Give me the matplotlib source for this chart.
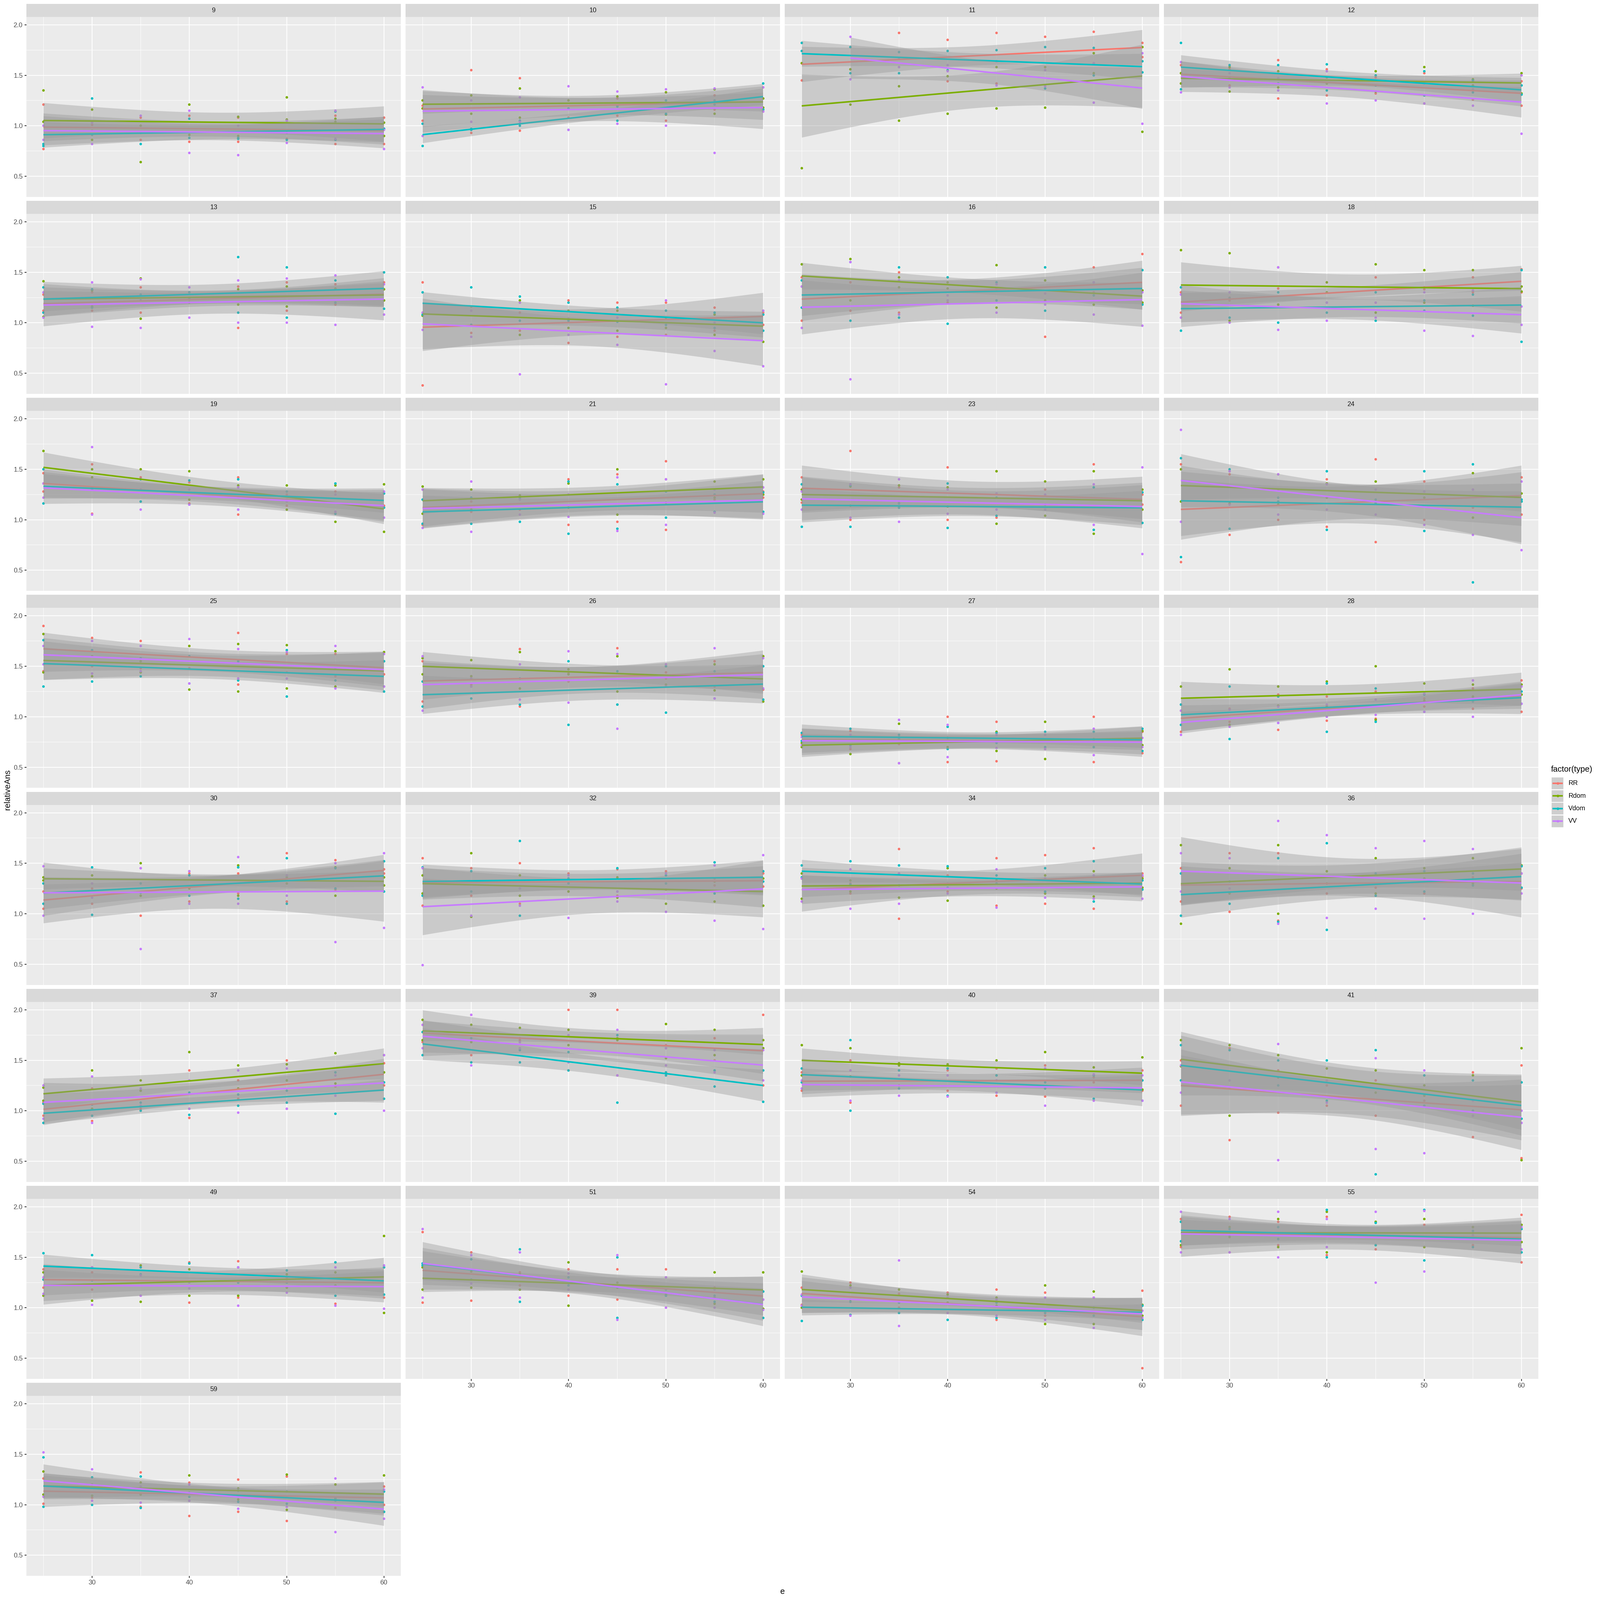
import numpy as np
import matplotlib
matplotlib.use("Agg")
import matplotlib.pyplot as plt
from matplotlib.patches import Rectangle

plt.rcParams["font.family"] = ["Liberation Sans", "DejaVu Sans"]

nan = float("nan")

PANELS = ["9", "10", "11", "12", "13", "15", "16", "18", "19", "21", "23", "24",
          "25", "26", "27", "28", "30", "32", "34", "36", "37", "39", "40", "41",
          "49", "51", "54", "55", "59"]
E_LEVELS = [25, 30, 35, 40, 45, 50, 55, 60]   # two observations per level and type
TYPES = ["RR", "Rdom", "Vdom", "VV"]
COLORS = ["#F8766D", "#7CAE00", "#00BFC4", "#C77CFF"]

# relativeAns, one row per panel, pairs for e = 25, 30, ..., 60
RR = [
    [1.21, 0.77, 1.01, 0.95, 1.08, 0.86, 0.84, 1.10, 1.08, 0.84, 0.87, 1.05, 1.10, 0.82, 1.08, 0.82],
    [1.20, 1.05, 1.55, 0.93, 1.47, 0.95, 1.08, 1.25, 1.27, 1.10, 1.33, 1.05, 1.30, 1.16, 1.38, 1.14],
    [1.62, 1.45, 1.78, 1.56, 1.92, 1.58, 1.85, 1.44, 1.92, 1.42, 1.88, 1.58, 1.93, 1.62, 1.82, 1.68],
    [1.60, 1.42, 1.40, 1.56, 1.65, 1.27, 1.30, 1.56, 1.48, 1.32, 1.22, 1.52, 1.26, 1.44, 1.20, 1.44],
    [1.28, 1.12, 1.30, 1.12, 1.35, 1.10, 1.25, 1.23, 1.36, 0.95, 1.40, 1.12, 1.38, 1.18, 1.40, 1.22],
    [0.38, 1.40, 1.12, 0.90, 1.10, 0.92, 0.80, 1.22, 1.20, 0.86, 1.20, 0.88, 1.15, 0.92, 1.10, 0.98],
    [1.02, 1.45, 1.40, 1.12, 1.10, 1.50, 1.45, 1.20, 1.33, 1.34, 0.86, 1.55, 1.55, 1.30, 1.68, 1.20],
    [1.30, 1.10, 1.25, 1.22, 1.18, 1.34, 1.40, 1.20, 1.45, 1.20, 1.35, 1.33, 1.45, 1.30, 1.53, 1.30],
    [1.46, 1.28, 1.06, 1.55, 1.42, 1.18, 1.16, 1.37, 1.42, 1.05, 1.25, 1.14, 1.28, 1.06, 1.12, 1.14],
    [0.95, 1.30, 1.18, 1.08, 1.20, 1.10, 0.95, 1.40, 1.45, 0.98, 1.58, 0.90, 1.25, 1.20, 1.28, 1.22],
    [1.42, 1.17, 1.68, 1.00, 1.18, 1.32, 1.52, 1.00, 1.48, 1.02, 1.15, 1.30, 1.55, 0.90, 1.25, 1.15],
    [0.58, 1.55, 1.45, 0.85, 1.00, 1.30, 0.93, 1.40, 0.78, 1.60, 1.38, 1.00, 1.30, 1.12, 1.42, 1.05],
    [1.90, 1.45, 1.78, 1.50, 1.75, 1.48, 1.70, 1.48, 1.83, 1.32, 1.62, 1.44, 1.62, 1.40, 1.55, 1.42],
    [1.55, 1.15, 1.40, 1.32, 1.67, 1.10, 1.35, 1.43, 1.68, 1.12, 1.38, 1.44, 1.55, 1.30, 1.60, 1.27],
    [0.82, 0.72, 0.68, 0.86, 0.80, 0.73, 1.00, 0.55, 0.56, 0.95, 0.68, 0.82, 1.00, 0.55, 0.64, 0.85],
    [1.12, 0.85, 0.95, 1.08, 0.87, 1.22, 0.96, 1.20, 1.25, 0.98, 1.18, 1.10, 1.08, 1.28, 1.36, 1.05],
    [1.05, 1.22, 1.10, 1.25, 0.98, 1.45, 1.40, 1.12, 1.40, 1.20, 1.60, 1.12, 1.53, 1.24, 1.40, 1.44],
    [1.55, 1.08, 1.45, 1.18, 1.50, 1.10, 1.22, 1.40, 1.44, 1.18, 1.42, 1.24, 1.35, 1.28, 1.40, 1.27],
    [1.35, 1.12, 1.30, 1.20, 1.64, 0.95, 1.22, 1.38, 1.08, 1.55, 1.58, 1.10, 1.65, 1.05, 1.40, 1.37],
    [1.45, 1.12, 1.60, 1.02, 0.93, 1.60, 1.42, 1.20, 1.30, 1.26, 1.42, 1.20, 1.28, 1.36, 1.25, 1.40],
    [0.95, 1.08, 0.90, 1.22, 1.02, 1.20, 0.93, 1.40, 1.30, 1.12, 1.50, 1.02, 1.38, 1.24, 1.25, 1.47],
    [1.85, 1.68, 1.95, 1.55, 1.70, 1.72, 2.00, 1.40, 2.00, 1.35, 1.62, 1.65, 1.72, 1.50, 1.95, 1.25],
    [1.20, 1.38, 1.08, 1.50, 1.25, 1.35, 1.40, 1.20, 1.15, 1.42, 1.45, 1.14, 1.28, 1.33, 1.20, 1.40],
    [1.50, 1.05, 0.71, 1.62, 1.40, 0.98, 1.25, 1.05, 1.30, 0.95, 1.10, 1.05, 0.74, 1.38, 0.53, 1.45],
    [1.20, 1.38, 1.35, 1.18, 1.40, 1.12, 1.05, 1.45, 1.46, 1.10, 1.20, 1.30, 1.04, 1.45, 1.10, 1.40],
    [1.75, 1.05, 1.07, 1.55, 1.22, 1.35, 1.12, 1.38, 1.08, 1.38, 1.38, 1.00, 1.10, 1.20, 1.08, 1.16],
    [1.20, 1.03, 1.25, 0.93, 1.00, 1.14, 0.95, 1.15, 0.88, 1.18, 1.15, 0.92, 1.10, 0.95, 0.40, 1.17],
    [1.88, 1.60, 1.90, 1.55, 1.85, 1.62, 1.52, 1.90, 1.85, 1.58, 1.60, 1.82, 1.80, 1.62, 1.45, 1.92],
    [1.26, 1.01, 1.07, 1.20, 1.32, 0.98, 0.89, 1.22, 0.93, 1.25, 0.84, 1.28, 1.20, 0.97, 1.18, 1.00],
]

RDOM = [
    [1.35, 1.04, 1.16, 0.86, 1.00, 0.64, 1.21, 0.91, 1.09, 0.90, 1.28, 1.06, 1.07, 1.04, 1.03, 0.90],
    [1.17, 1.25, 1.30, 1.12, 1.37, 1.08, 1.25, 1.17, 1.20, 1.29, 1.11, 1.33, 1.36, 1.12, 1.27, 1.18],
    [0.58, 1.62, 1.21, 1.56, 1.05, 1.39, 1.12, 1.49, 1.17, 1.58, 1.58, 1.18, 1.52, 1.72, 0.94, 1.78],
    [1.52, 1.42, 1.58, 1.34, 1.38, 1.54, 1.42, 1.48, 1.34, 1.54, 1.58, 1.30, 1.40, 1.46, 1.32, 1.52],
    [1.41, 1.06, 1.16, 1.32, 1.04, 1.44, 1.30, 1.20, 1.18, 1.33, 1.36, 1.16, 1.34, 1.20, 1.22, 1.33],
    [1.10, 1.07, 1.16, 0.98, 1.22, 0.88, 0.95, 1.12, 1.12, 0.92, 1.05, 0.95, 1.08, 0.88, 1.12, 0.81],
    [1.58, 1.36, 1.63, 1.22, 1.35, 1.45, 1.40, 1.34, 1.57, 1.15, 1.22, 1.42, 1.40, 1.18, 1.32, 1.20],
    [1.72, 1.05, 1.69, 1.02, 1.55, 1.18, 1.40, 1.30, 1.10, 1.58, 1.52, 1.20, 1.52, 1.17, 1.36, 1.31],
    [1.68, 1.36, 1.42, 1.50, 1.50, 1.30, 1.20, 1.48, 1.34, 1.22, 1.10, 1.34, 0.98, 1.34, 1.35, 0.88],
    [1.33, 1.06, 1.10, 1.30, 1.24, 1.20, 1.12, 1.36, 1.50, 1.05, 1.40, 1.17, 1.38, 1.22, 1.40, 1.25],
    [1.30, 1.20, 1.14, 1.33, 1.12, 1.34, 1.32, 1.13, 0.96, 1.48, 1.38, 1.04, 1.48, 0.86, 1.30, 1.10],
    [1.50, 1.18, 1.48, 1.16, 1.45, 1.15, 1.22, 1.36, 1.38, 1.16, 1.28, 1.22, 1.46, 1.02, 1.18, 1.26],
    [1.82, 1.44, 1.60, 1.40, 1.55, 1.44, 1.27, 1.70, 1.25, 1.72, 1.71, 1.28, 1.65, 1.30, 1.64, 1.30],
    [1.58, 1.42, 1.56, 1.40, 1.64, 1.28, 1.47, 1.42, 1.25, 1.60, 1.50, 1.32, 1.52, 1.26, 1.60, 1.15],
    [0.70, 0.74, 0.82, 0.63, 0.54, 0.93, 0.70, 0.79, 0.66, 0.85, 0.95, 0.58, 0.78, 0.77, 0.72, 0.86],
    [1.06, 1.30, 1.47, 0.92, 1.30, 1.11, 1.35, 1.10, 1.50, 0.97, 1.33, 1.16, 1.20, 1.32, 1.22, 1.32],
    [1.33, 1.36, 1.38, 1.30, 1.50, 1.18, 1.25, 1.42, 1.48, 1.18, 1.30, 1.36, 1.18, 1.46, 1.36, 1.28],
    [1.38, 1.20, 0.97, 1.60, 1.38, 1.18, 1.30, 1.22, 1.36, 1.16, 1.40, 1.10, 1.32, 1.12, 1.35, 1.08],
    [1.40, 1.15, 1.22, 1.33, 1.16, 1.40, 1.13, 1.45, 1.33, 1.25, 1.20, 1.38, 1.42, 1.17, 1.35, 1.26],
    [0.90, 1.68, 1.45, 1.20, 1.68, 1.00, 1.30, 1.42, 1.55, 1.20, 1.45, 1.35, 1.30, 1.55, 1.48, 1.40],
    [1.10, 1.23, 1.40, 1.02, 1.30, 1.20, 1.58, 1.02, 1.45, 1.22, 1.30, 1.46, 1.57, 1.27, 1.55, 1.38],
    [1.90, 1.70, 1.85, 1.68, 1.82, 1.68, 1.80, 1.65, 1.70, 1.72, 1.86, 1.52, 1.55, 1.80, 1.70, 1.62],
    [1.65, 1.35, 1.62, 1.34, 1.45, 1.47, 1.42, 1.46, 1.35, 1.50, 1.58, 1.24, 1.35, 1.43, 1.53, 1.21],
    [1.70, 1.44, 0.95, 1.65, 1.55, 1.33, 1.30, 1.42, 1.40, 1.18, 1.25, 1.15, 1.35, 0.95, 0.51, 1.62],
    [1.35, 1.12, 1.40, 1.07, 1.06, 1.42, 1.38, 1.12, 1.12, 1.40, 1.20, 1.33, 1.35, 1.22, 1.71, 0.95],
    [1.18, 1.40, 1.36, 1.20, 1.33, 1.18, 1.02, 1.45, 1.25, 1.20, 1.13, 1.30, 1.35, 1.04, 1.35, 0.99],
    [1.36, 1.00, 1.08, 1.22, 1.18, 1.06, 1.05, 1.13, 1.02, 1.10, 1.22, 0.84, 0.84, 1.16, 1.03, 0.92],
    [1.62, 1.85, 1.80, 1.70, 1.88, 1.60, 1.95, 1.55, 1.62, 1.85, 1.60, 1.88, 1.80, 1.68, 1.82, 1.65],
    [1.33, 1.10, 1.20, 1.09, 1.22, 1.10, 1.29, 1.04, 1.16, 1.05, 0.95, 1.30, 1.20, 1.06, 1.29, 0.93],
]

VDOM = [
    [0.80, 0.82, 1.27, 0.91, 0.82, 0.93, 1.07, 0.88, 0.88, 0.87, 0.93, 0.86, 1.14, 0.86, 0.97, 0.97],
    [0.80, 1.02, 0.97, 0.96, 1.00, 1.05, 0.96, 1.17, 1.05, 1.19, 1.12, 1.25, 1.21, 1.25, 1.42, 1.16],
    [1.82, 1.74, 1.78, 1.52, 1.73, 1.52, 1.55, 1.74, 1.75, 1.64, 1.78, 1.37, 1.77, 1.50, 1.64, 1.53],
    [1.82, 1.36, 1.60, 1.48, 1.42, 1.60, 1.61, 1.35, 1.50, 1.40, 1.30, 1.54, 1.45, 1.33, 1.40, 1.31],
    [1.10, 1.35, 1.15, 1.33, 1.22, 1.28, 1.30, 1.24, 1.65, 1.10, 1.55, 1.05, 1.42, 1.20, 1.14, 1.50],
    [1.30, 1.08, 1.35, 0.98, 1.02, 1.26, 1.20, 1.02, 1.15, 1.01, 0.98, 1.12, 1.10, 0.95, 0.92, 1.08],
    [1.15, 1.42, 1.60, 1.02, 1.55, 1.05, 1.45, 0.99, 1.40, 1.22, 1.55, 1.12, 1.27, 1.40, 1.52, 1.18],
    [0.92, 1.35, 1.05, 1.24, 1.30, 1.00, 1.10, 1.20, 1.02, 1.30, 1.12, 1.22, 1.28, 1.07, 0.81, 1.52],
    [1.16, 1.50, 1.32, 1.30, 1.40, 1.18, 1.39, 1.15, 1.10, 1.40, 1.28, 1.18, 1.06, 1.36, 1.26, 1.12],
    [1.20, 0.96, 0.96, 1.22, 1.22, 0.98, 0.86, 1.38, 1.35, 0.91, 1.02, 1.28, 1.25, 1.08, 1.08, 1.27],
    [1.35, 0.93, 0.93, 1.34, 1.12, 1.16, 0.92, 1.36, 1.04, 1.22, 1.15, 1.10, 1.32, 0.90, 0.97, 1.27],
    [1.61, 0.63, 0.91, 1.50, 1.18, 1.22, 1.48, 0.90, 1.20, 1.17, 0.89, 1.48, 0.38, 1.55, 1.20, 1.18],
    [1.76, 1.30, 1.35, 1.66, 1.40, 1.58, 1.33, 1.60, 1.55, 1.36, 1.20, 1.66, 1.48, 1.36, 1.55, 1.25],
    [1.35, 1.10, 1.18, 1.30, 1.12, 1.38, 0.92, 1.55, 1.45, 1.12, 1.04, 1.50, 1.18, 1.45, 1.50, 1.17],
    [0.76, 0.84, 0.88, 0.72, 0.82, 0.78, 0.68, 0.90, 0.74, 0.84, 0.85, 0.70, 0.70, 0.85, 0.88, 0.66],
    [0.92, 1.12, 0.78, 1.30, 1.20, 0.94, 1.33, 0.85, 0.95, 1.28, 1.05, 1.22, 1.15, 1.18, 1.25, 1.13],
    [1.30, 1.10, 0.99, 1.46, 1.30, 1.21, 1.18, 1.38, 1.15, 1.46, 1.55, 1.10, 1.45, 1.25, 1.22, 1.52],
    [1.46, 1.18, 1.22, 1.42, 1.72, 0.98, 1.35, 1.30, 1.45, 1.22, 1.38, 1.30, 1.51, 1.20, 1.42, 1.32],
    [1.48, 1.36, 1.52, 1.29, 1.28, 1.48, 1.47, 1.26, 1.30, 1.38, 1.45, 1.22, 1.52, 1.12, 1.24, 1.33],
    [0.98, 1.40, 1.32, 1.10, 0.92, 1.55, 0.84, 1.70, 1.40, 1.18, 1.22, 1.42, 1.40, 1.28, 1.47, 1.26],
    [0.88, 1.07, 0.95, 1.06, 1.00, 1.08, 0.96, 1.18, 1.05, 1.16, 1.20, 1.08, 0.97, 1.38, 1.28, 1.12],
    [1.55, 1.78, 1.72, 1.48, 1.60, 1.48, 1.58, 1.40, 1.08, 1.75, 1.38, 1.35, 1.24, 1.40, 1.09, 1.40],
    [1.28, 1.42, 1.70, 1.00, 1.40, 1.22, 1.15, 1.42, 1.35, 1.18, 1.22, 1.28, 1.12, 1.35, 1.30, 1.10],
    [1.65, 1.30, 1.60, 1.22, 1.50, 1.25, 1.50, 1.10, 0.37, 1.60, 1.35, 1.05, 1.30, 1.00, 1.28, 0.92],
    [1.54, 1.28, 1.52, 1.27, 1.40, 1.33, 1.44, 1.26, 1.40, 1.25, 1.25, 1.37, 1.45, 1.12, 1.13, 1.40],
    [1.44, 1.42, 1.48, 1.28, 1.58, 1.06, 1.22, 1.30, 0.90, 1.50, 1.18, 1.12, 1.12, 1.06, 0.90, 1.16],
    [1.12, 0.87, 0.93, 1.06, 1.05, 0.95, 0.88, 1.10, 0.90, 1.05, 0.98, 0.95, 0.92, 1.00, 0.88, 1.02],
    [1.85, 1.66, 1.72, 1.78, 1.68, 1.80, 1.97, 1.50, 1.84, 1.62, 1.97, 1.47, 1.76, 1.60, 1.55, 1.78],
    [1.47, 0.98, 1.00, 1.27, 0.97, 1.28, 1.08, 1.12, 1.03, 1.14, 1.13, 1.01, 1.07, 1.04, 1.13, 0.93],
]

VV = [
    [1.00, 0.86, 1.03, 0.82, 1.10, 0.94, 1.15, 0.73, 1.00, 0.71, 1.05, 0.83, 1.15, 0.87, 0.96, 0.77],
    [1.38, 0.90, 1.25, 1.04, 1.28, 1.04, 1.39, 0.96, 1.34, 1.02, 1.36, 1.00, 1.37, 0.73, 1.38, 1.14],
    [nan, nan, 1.88, 1.46, 1.66, 1.58, 1.54, 1.60, 1.40, 1.64, 1.55, 1.39, 1.62, 1.23, 1.72, 1.02],
    [1.33, 1.63, 1.52, 1.38, 1.35, 1.47, 1.22, 1.54, 1.25, 1.45, 1.42, 1.22, 1.36, 1.20, 0.92, 1.50],
    [1.30, 1.05, 1.40, 0.96, 0.95, 1.43, 1.05, 1.35, 1.42, 1.00, 1.44, 1.00, 0.98, 1.47, 1.38, 1.08],
    [1.10, 0.93, 1.12, 0.86, 0.49, 1.20, 1.04, 0.88, 1.05, 0.78, 0.39, 1.22, 0.72, 1.00, 0.57, 1.12],
    [1.36, 0.95, 0.44, 1.60, 1.42, 1.08, 1.27, 1.22, 1.38, 1.10, 1.29, 1.18, 1.40, 1.08, 1.30, 0.97],
    [1.05, 1.28, 1.00, 1.30, 1.55, 0.93, 1.02, 1.20, 1.05, 1.20, 0.92, 1.30, 0.87, 1.32, 0.98, 1.16],
    [1.22, 1.36, 1.72, 1.05, 1.10, 1.30, 1.15, 1.30, 1.10, 1.32, 1.18, 1.20, 1.25, 1.08, 1.28, 1.02],
    [1.30, 0.92, 1.38, 0.88, 1.20, 1.05, 1.25, 1.03, 0.89, 1.42, 1.40, 0.95, 1.07, 1.30, 1.32, 1.06],
    [1.10, 1.28, 1.02, 1.35, 1.40, 0.98, 1.30, 1.06, 1.10, 1.26, 1.25, 1.10, 1.35, 0.95, 0.66, 1.52],
    [1.89, 0.98, 1.48, 1.15, 1.45, 1.05, 1.35, 1.10, 1.05, 1.30, 1.28, 0.95, 0.85, 1.30, 1.38, 0.70],
    [1.70, 1.52, 1.75, 1.43, 1.70, 1.45, 1.77, 1.33, 1.67, 1.38, 1.64, 1.38, 1.28, 1.70, 1.30, 1.62],
    [1.60, 1.06, 1.30, 1.38, 1.52, 1.17, 1.65, 1.14, 0.88, 1.62, 1.52, 1.30, 1.68, 1.18, 1.58, 1.28],
    [0.72, 0.80, 0.70, 0.82, 0.54, 0.97, 0.92, 0.60, 0.82, 0.69, 0.68, 0.82, 0.88, 0.62, 0.70, 0.79],
    [0.82, 1.06, 0.90, 1.07, 0.94, 1.10, 1.12, 1.00, 1.02, 1.17, 1.05, 1.23, 1.36, 1.00, 1.30, 1.13],
    [1.47, 0.98, 1.30, 1.16, 0.65, 1.45, 1.42, 1.10, 1.56, 1.10, 1.38, 1.18, 0.72, 1.50, 0.86, 1.60],
    [0.49, 1.45, 1.32, 0.98, 1.25, 1.08, 1.38, 0.96, 1.22, 1.12, 1.40, 1.02, 0.93, 1.48, 0.85, 1.58],
    [1.35, 1.12, 1.05, 1.44, 1.40, 1.10, 1.30, 1.20, 1.06, 1.44, 1.35, 1.16, 1.38, 1.15, 1.15, 1.38],
    [1.60, 1.22, 1.55, 1.25, 1.92, 0.90, 1.78, 0.96, 1.05, 1.65, 0.95, 1.72, 1.00, 1.64, 1.40, 1.20],
    [1.25, 0.92, 1.34, 0.88, 1.05, 1.22, 1.30, 1.02, 1.40, 0.98, 1.02, 1.42, 1.15, 1.35, 1.55, 1.00],
    [1.85, 1.62, 1.95, 1.45, 1.68, 1.62, 1.75, 1.48, 1.80, 1.35, 1.45, 1.62, 1.38, 1.60, 1.60, 1.30],
    [1.22, 1.30, 1.10, 1.40, 1.35, 1.15, 1.14, 1.35, 1.30, 1.18, 1.05, 1.42, 1.10, 1.36, 1.35, 1.10],
    [1.45, 1.18, 1.30, 1.22, 0.51, 1.66, 1.30, 1.08, 0.62, 1.52, 0.58, 1.40, 1.10, 0.95, 0.88, 1.00],
    [1.30, 1.14, 1.03, 1.40, 1.12, 1.32, 1.25, 1.19, 1.40, 1.02, 1.15, 1.28, 1.02, 1.40, 0.99, 1.42],
    [1.78, 1.10, 1.52, 1.24, 1.55, 1.10, 1.34, 1.18, 0.88, 1.52, 1.30, 1.00, 1.00, 1.18, 0.98, 1.08],
    [1.13, 1.02, 0.92, 1.20, 1.47, 0.82, 1.10, 0.95, 1.08, 0.92, 0.88, 1.10, 0.80, 1.10, 0.97, 0.90],
    [1.95, 1.55, 1.88, 1.55, 1.95, 1.50, 1.60, 1.88, 1.25, 1.95, 1.36, 1.96, 1.70, 1.72, 1.58, 1.80],
    [1.52, 1.08, 1.35, 1.04, 1.18, 1.02, 1.20, 1.04, 1.08, 0.96, 1.08, 0.98, 1.26, 0.73, 1.15, 0.86],
]

SERIES = [RR, RDOM, VDOM, VV]

# 97.5% t quantiles for the lm confidence ribbon (df = n - 2)
T975 = {12: 2.1788, 13: 2.1604, 14: 2.1448}

W = 5760
COL_LEFT = [95, 1460, 2825, 4190]
PANEL_W, STRIP_H, PANEL_H = 1348, 47, 648
ROW_TOP0, ROW_PITCH = 13.8, 709.2
XLIM = (23.25, 61.75)
YLIM = (0.294, 2.077)


def box(left, top, w, h):
    return [left / W, 1 - (top + h) / W, w / W, h / W]


def lm_band(x, y):
    ok = ~np.isnan(y)
    x, y = x[ok], y[ok]
    n = len(x)
    b, a = np.polyfit(x, y, 1)
    xs = np.linspace(x.min(), x.max(), 80)
    fit = a + b * xs
    s = np.sqrt(((y - (a + b * x)) ** 2).sum() / (n - 2))
    se = s * np.sqrt(1 / n + (xs - x.mean()) ** 2 / ((x - x.mean()) ** 2).sum())
    t = T975[n - 2]
    return xs, fit, fit - t * se, fit + t * se


fig = plt.figure(figsize=(30, 30), dpi=192)
ex = np.repeat(np.array(E_LEVELS, dtype=float), 2)

for k, lab in enumerate(PANELS):
    r, c = divmod(k, 4)
    top = ROW_TOP0 + ROW_PITCH * r
    left = COL_LEFT[c]

    sax = fig.add_axes(box(left, top, PANEL_W, STRIP_H))
    sax.set_facecolor("#D9D9D9")
    sax.set_xticks([]); sax.set_yticks([])
    for sp in sax.spines.values():
        sp.set_visible(False)
    sax.text(0.5, 0.5, lab, ha="center", va="center", fontsize=8.8,
             color="#1A1A1A", transform=sax.transAxes)

    ax = fig.add_axes(box(left, top + STRIP_H, PANEL_W, PANEL_H))
    ax.set_facecolor("#EBEBEB")
    for sp in ax.spines.values():
        sp.set_visible(False)
    ax.set_xlim(*XLIM); ax.set_ylim(*YLIM)
    ax.set_xticks([30, 40, 50, 60]); ax.set_xticks([25, 35, 45, 55], minor=True)
    ax.set_yticks([0.5, 1.0, 1.5, 2.0]); ax.set_yticks([0.75, 1.25, 1.75], minor=True)
    ax.set_yticklabels(["0.5", "1.0", "1.5", "2.0"])
    ax.grid(which="major", color="white", linewidth=1.07)
    ax.grid(which="minor", color="white", linewidth=0.53)
    ax.set_axisbelow(True)
    ax.tick_params(which="minor", length=0)
    ax.tick_params(which="major", length=2.75, width=1.07, color="#333333",
                   labelsize=8.8, labelcolor="#4D4D4D", pad=2.2)
    if c != 0:
        ax.tick_params(axis="y", length=0, labelleft=False)
    if k + 4 < len(PANELS):
        ax.tick_params(axis="x", length=0, labelbottom=False)

    for ser, col in zip(SERIES, COLORS):
        y = np.array(ser[k], dtype=float)
        ax.scatter(ex, y, s=12, color=col, linewidths=0, zorder=2)
    for ser, col in zip(SERIES, COLORS):
        y = np.array(ser[k], dtype=float)
        xs, fit, lo, hi = lm_band(ex, y)
        ax.fill_between(xs, lo, hi, color="#999999", alpha=0.4, linewidth=0, zorder=3)
        ax.plot(xs, fit, color=col, linewidth=2.13, zorder=3, solid_capstyle="butt")

# overlay in pixel coordinates for axis titles and legend
lax = fig.add_axes([0, 0, 1, 1], zorder=10)
lax.set_xlim(0, W); lax.set_ylim(W, 0)
lax.axis("off")
lax.text(27, 2843, "relativeAns", rotation=90, ha="center", va="center", fontsize=11)
lax.text(2817, 5730, "e", ha="center", va="center", fontsize=11)

lax.text(5584, 2770, "factor(type)", ha="left", va="center", fontsize=11)
for i, (t, col) in enumerate(zip(TYPES, COLORS)):
    y0 = 2797 + 45.5 * i
    lax.add_patch(Rectangle((5584, y0), 45, 45, facecolor="#CECECE",
                            edgecolor="white", linewidth=1.0))
    lax.plot([5589, 5626], [y0 + 22.5] * 2, color=col, linewidth=2.13,
             solid_capstyle="butt")
    lax.scatter([5607.5], [y0 + 22.5], s=12, color=col, linewidths=0, zorder=5)
    lax.text(5646, y0 + 22.5, t, ha="left", va="center", fontsize=8.8)

fig.savefig("out.png", dpi=192, facecolor="white")
